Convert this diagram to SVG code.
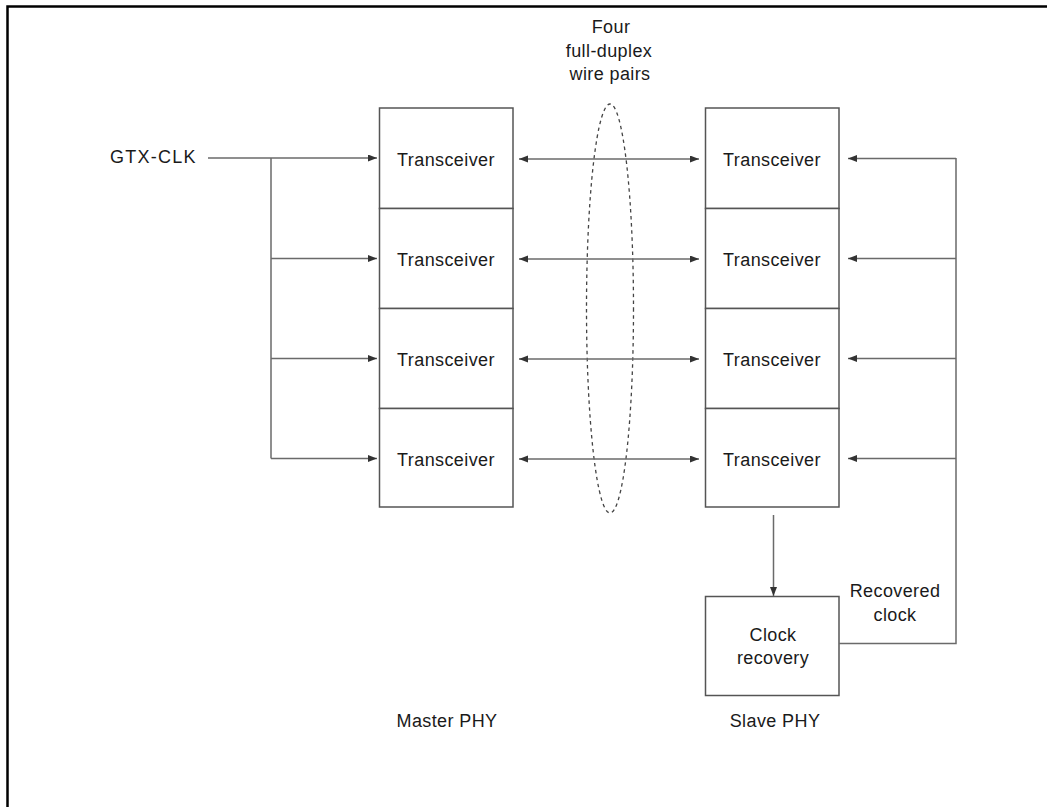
<svg xmlns="http://www.w3.org/2000/svg" width="1047" height="807" viewBox="0 0 1047 807">
<style>
.box{fill:#fff;stroke:#555;stroke-width:1.5}
.ln{fill:none;stroke:#6a6a6a;stroke-width:1.5}
.t{font-family:"Liberation Sans",Arial,sans-serif;font-size:18px;fill:#1a1a1a;text-anchor:middle;letter-spacing:0.4px}
.frame{fill:none;stroke:#000;stroke-width:2.5}
</style>
<defs>
<marker id="ah" markerUnits="userSpaceOnUse" markerWidth="10" markerHeight="8" refX="9" refY="3.5" orient="auto-start-reverse">
<path d="M0,0 L9,3.5 L0,7 z" fill="#333"/>
</marker>
</defs>
<rect width="1047" height="807" fill="#fff"/>
<path class="frame" d="M7.5,807 V6.5 H1047"/>

<g id="master-phy">
<g id="m1"><rect class="box" x="379.5" y="108" width="133.5" height="100.5"/><text class="t" x="446" y="165.5">Transceiver</text></g>
<g id="m2"><rect class="box" x="379.5" y="208.5" width="133.5" height="100"/><text class="t" x="446" y="265.5">Transceiver</text></g>
<g id="m3"><rect class="box" x="379.5" y="308.5" width="133.5" height="100"/><text class="t" x="446" y="365.5">Transceiver</text></g>
<g id="m4"><rect class="box" x="379.5" y="408.5" width="133.5" height="98.5"/><text class="t" x="446" y="465.5">Transceiver</text></g>
<text class="t" x="447" y="727">Master PHY</text>
</g>

<g id="slave-phy">
<g id="s1"><rect class="box" x="705.5" y="108" width="133.5" height="100.5"/><text class="t" x="772" y="165.5">Transceiver</text></g>
<g id="s2"><rect class="box" x="705.5" y="208.5" width="133.5" height="100"/><text class="t" x="772" y="265.5">Transceiver</text></g>
<g id="s3"><rect class="box" x="705.5" y="308.5" width="133.5" height="100"/><text class="t" x="772" y="365.5">Transceiver</text></g>
<g id="s4"><rect class="box" x="705.5" y="408.5" width="133.5" height="98.5"/><text class="t" x="772" y="465.5">Transceiver</text></g>
<text class="t" x="775" y="727">Slave PHY</text>
</g>

<g id="clock-recovery">
<rect class="box" x="705.5" y="596.5" width="133.5" height="99"/>
<text class="t" x="773" y="641">Clock</text>
<text class="t" x="773" y="664">recovery</text>
</g>

<g id="gtx-clk"><text class="t" x="153" y="163" textLength="86" lengthAdjust="spacing">GTX-CLK</text></g>

<g id="wire-pairs">
<ellipse cx="610" cy="308.5" rx="23.5" ry="204.5" fill="none" stroke="#444" stroke-width="1.3" stroke-dasharray="3.5,3.5"/>
<text class="t" x="611" y="33">Four</text>
<text class="t" x="609" y="57">full-duplex</text>
<text class="t" x="610" y="80">wire pairs</text>
</g>

<g id="recovered-clock-label">
<text class="t" x="895" y="597">Recovered</text>
<text class="t" x="895" y="621">clock</text>
</g>

<g id="connectors">
<path class="ln" d="M208,158 H377" marker-end="url(#ah)"/>
<path class="ln" d="M271,158 V458.5"/>
<path class="ln" d="M271,258.5 H377" marker-end="url(#ah)"/>
<path class="ln" d="M271,358.5 H377" marker-end="url(#ah)"/>
<path class="ln" d="M271,458.5 H377" marker-end="url(#ah)"/>

<path class="ln" d="M519,159 H699" marker-start="url(#ah)" marker-end="url(#ah)"/>
<path class="ln" d="M519,259 H699" marker-start="url(#ah)" marker-end="url(#ah)"/>
<path class="ln" d="M519,359 H699" marker-start="url(#ah)" marker-end="url(#ah)"/>
<path class="ln" d="M519,459 H699" marker-start="url(#ah)" marker-end="url(#ah)"/>

<path class="ln" d="M839,643.5 H956 V158"/>
<path class="ln" d="M956,158.5 H848" marker-end="url(#ah)"/>
<path class="ln" d="M956,258.5 H848" marker-end="url(#ah)"/>
<path class="ln" d="M956,358.5 H848" marker-end="url(#ah)"/>
<path class="ln" d="M956,458.5 H848" marker-end="url(#ah)"/>

<path class="ln" d="M773.5,515 V596" marker-end="url(#ah)"/>
</g>
</svg>
